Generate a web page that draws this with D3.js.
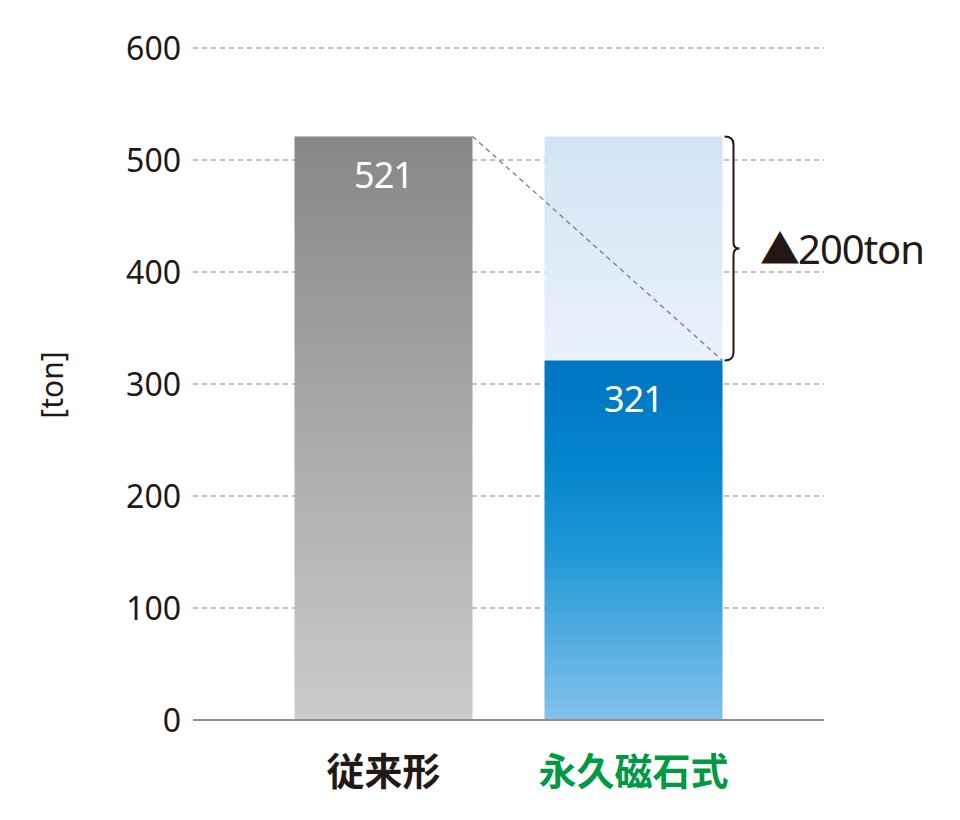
<!DOCTYPE html>
<html><head><meta charset="utf-8">
<script src="https://cdn.jsdelivr.net/npm/d3@7"></script>
<style>body{margin:0;background:#fff}</style>
</head><body><svg id="c" width="960" height="820"></svg>
<script>
const categories = ["従来形", "永久磁石式"];
const values = [521, 321];
const categoryColors = ["#231815", "#009944"];
const yTicks = [0, 100, 200, 300, 400, 500, 600];
const yLabel = "[ton]";
const reductionMark = "▲";
const reductionLabel = "200ton";

(function(){
const svg = d3.select("#c");
const pLeft = 193, pRight = 824, pTop = 48, pBottom = 720;
const x = d3.scaleBand().domain(categories).range([pLeft, pRight]).paddingInner(0.288).paddingOuter(0.406);
const y = d3.scaleLinear().domain([0, 600]).range([pBottom, pTop]);

const defs = svg.append("defs");
function grad(id, stops){
  const g = defs.append("linearGradient").attr("id", id).attr("x1",0).attr("y1",0).attr("x2",0).attr("y2",1);
  stops.forEach(([o, c]) => g.append("stop").attr("offset", o).attr("stop-color", c));
}
grad("gGray", [[0, "#878787"], [1, "#cbcbcb"]]);
grad("gBlue", [[0, "#0074c1"], [0.3, "#0486cc"], [0.55, "#2299d7"], [1, "#84c1ea"]]);
grad("gGhost", [[0, "#d2e4f4"], [1, "#e9f2fb"]]);

const font = "'Noto Sans', 'Open Sans', sans-serif";
const cjk = "'Noto Sans CJK JP', sans-serif";

// gridlines
svg.append("g").selectAll("line").data(yTicks.filter(d => d > 0)).join("line")
  .attr("x1", pLeft).attr("x2", pRight).attr("y1", d => y(d)).attr("y2", d => y(d))
  .attr("stroke", "#858585").attr("stroke-width", 1.2).attr("stroke-dasharray", "5,4");

// y axis labels
const yAxis = d3.axisLeft(y).tickValues(yTicks).tickSize(0).tickPadding(0);
const ga = svg.append("g").attr("transform", `translate(${pLeft - 12},0)`).call(yAxis);
ga.select(".domain").remove();
ga.selectAll("text").attr("font-family", font).attr("font-size", 32).attr("fill", "#231815").attr("dy", "0.36em");

svg.append("text").attr("transform", `translate(63,385) rotate(-90)`)
  .attr("text-anchor", "middle").attr("font-family", font).attr("font-size", 30)
  .attr("fill", "#231815").text(yLabel);

// ghost bar (reduction area)
const i1 = categories[1];
svg.append("rect").attr("x", x(i1)).attr("width", x.bandwidth())
  .attr("y", y(values[0])).attr("height", y(values[1]) - y(values[0]))
  .attr("fill", "url(#gGhost)");

// bars
const fills = ["url(#gGray)", "url(#gBlue)"];
svg.append("g").selectAll("rect").data(values).join("rect")
  .attr("x", (d, i) => x(categories[i])).attr("width", x.bandwidth())
  .attr("y", d => y(d)).attr("height", d => y(0) - y(d))
  .attr("fill", (d, i) => fills[i]);

// baseline
svg.append("line").attr("x1", pLeft).attr("x2", pRight).attr("y1", y(0)).attr("y2", y(0))
  .attr("stroke", "#8f8f8f").attr("stroke-width", 2);

// diagonal dashed line
svg.append("line")
  .attr("x1", x(categories[0]) + x.bandwidth()).attr("y1", y(values[0]))
  .attr("x2", x(i1) + x.bandwidth()).attr("y2", y(values[1]))
  .attr("stroke", "#7d7d7d").attr("stroke-width", 1.3).attr("stroke-dasharray", "5,4");

// value labels
svg.append("g").selectAll("text").data(values).join("text")
  .attr("x", (d, i) => x(categories[i]) + x.bandwidth() / 2)
  .attr("y", d => y(d) + 52)
  .attr("text-anchor", "middle").attr("font-family", font).attr("font-size", 36)
  .attr("letter-spacing", -1)
  .attr("fill", "#fff").text(d => d);

// category labels
svg.append("g").selectAll("text").data(categories).join("text")
  .attr("x", d => x(d) + x.bandwidth() / 2).attr("y", 785)
  .attr("text-anchor", "middle").attr("font-family", cjk).attr("font-weight", 700)
  .attr("font-size", 38).attr("fill", (d, i) => categoryColors[i]).text(d => d);

// curly brace
const bx = x(i1) + x.bandwidth() + 2;
const y0 = y(values[0]), y1 = y(values[1]), ym = (y0 + y1) / 2;
const w = 9, r = 6;
const path = `M${bx},${y0} Q${bx + w},${y0} ${bx + w},${y0 + r + 2}
 L${bx + w},${ym - r} Q${bx + w},${ym} ${bx + w + 6},${ym}
 Q${bx + w},${ym} ${bx + w},${ym + r}
 L${bx + w},${y1 - r - 2} Q${bx + w},${y1} ${bx},${y1}`;
svg.append("path").attr("d", path).attr("fill", "none").attr("stroke", "#231815").attr("stroke-width", 2);

const t = svg.append("text").attr("x", 760).attr("y", ym + 16)
  .attr("font-family", font).attr("font-size", 40).attr("fill", "#231815");
t.append("tspan").attr("font-family", cjk).attr("font-size", 40).text(reductionMark);
t.append("tspan").attr("dx", -2).attr("letter-spacing", -1).text(reductionLabel);
})();
</script></body></html>
